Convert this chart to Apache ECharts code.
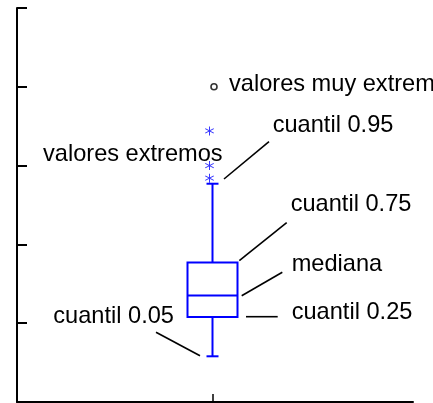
<!DOCTYPE html>
<html><head><meta charset="utf-8">
<script src="https://cdn.jsdelivr.net/npm/echarts@6/dist/echarts.min.js"></script>
<style>html,body{margin:0;padding:0;background:#fff}#c{width:433px;height:403px}</style>
</head><body><div id="c"></div>
<script>
const categories = ['grupo'];
// min (cuantil 0.05), q1 (0.25), mediana, q3 (0.75), max (cuantil 0.95)
const boxStats = [0.58, 1.08, 1.35, 1.77, 2.77];
const extremeValues = [2.84, 3.00, 3.44];
const veryExtremeValues = [4.0];
const yMin = 0, yMax = 5, yStep = 1;

const FONT = '23.6px "Liberation Sans", Arial, Helvetica, sans-serif';
const BLUE = '#0000ff';

const chart = echarts.init(document.getElementById('c'), null, {renderer: 'canvas'});

function txt(text, x, baseline) {
  return {type: 'text', x: x, y: baseline - 7.7, z: 10,
    style: {text: text, font: FONT, fill: '#000', verticalAlign: 'middle', align: 'left'}};
}
function ln(x1, y1, x2, y2) {
  return {type: 'line', z: 10, shape: {x1, y1, x2, y2}, style: {stroke: '#000', lineWidth: 1.6}};
}

const starPath = 'path://M-0.1,-1L0.1,-1L0.1,1L-0.1,1Z' +
  'M0.816,-0.587L0.916,-0.413L-0.816,0.587L-0.916,0.413Z' +
  'M-0.916,-0.413L-0.816,-0.587L0.916,0.413L0.816,0.587Z';

chart.setOption({
  animation: false,
  backgroundColor: '#fff',
  grid: [
    {left: 17, right: 20, top: 8, bottom: 1},
    {left: 17, right: 25, top: 8, bottom: 1}
  ],
  xAxis: [
    {gridIndex: 0, type: 'value', min: 0, max: 1,
      axisLine: {show: true, lineStyle: {color: '#000', width: 2}},
      axisTick: {show: false}, axisLabel: {show: false}, splitLine: {show: false}},
    {gridIndex: 1, type: 'category', data: categories,
      axisLine: {show: false},
      axisTick: {show: true, inside: true, length: 8, alignWithLabel: true, lineStyle: {color: '#000', width: 1.5}},
      axisLabel: {show: false}, splitLine: {show: false}}
  ],
  yAxis: [
    {gridIndex: 0, type: 'value', min: yMin, max: yMax, interval: yStep,
      axisLine: {show: true, lineStyle: {color: '#000', width: 2}},
      axisTick: {show: true, inside: true, length: 10, lineStyle: {color: '#000', width: 2}},
      axisLabel: {show: false}, splitLine: {show: false}},
    {gridIndex: 1, type: 'value', min: yMin, max: yMax, interval: yStep,
      axisLine: {show: false}, axisTick: {show: false}, axisLabel: {show: false}, splitLine: {show: false}}
  ],
  series: [
    {
      type: 'custom', xAxisIndex: 1, yAxisIndex: 1,
      data: [[0].concat(boxStats)],
      encode: {x: 0, y: [1, 2, 3, 4, 5]},
      renderItem: function (params, api) {
        const x = api.value(0);
        const p = k => api.coord([x, api.value(k)]);
        const pMin = p(1), pQ1 = p(2), pMed = p(3), pQ3 = p(4), pMax = p(5);
        const cx = pMin[0];
        const hw = 25, cw = 6;
        const st = {stroke: BLUE, lineWidth: 2, fill: null};
        return {type: 'group', children: [
          {type: 'rect', shape: {x: cx - hw, y: pQ3[1], width: 2 * hw, height: pQ1[1] - pQ3[1]}, style: {stroke: BLUE, lineWidth: 2, fill: 'none'}},
          {type: 'line', shape: {x1: cx - hw, y1: pMed[1], x2: cx + hw, y2: pMed[1]}, style: st},
          {type: 'line', shape: {x1: cx, y1: pQ3[1], x2: cx, y2: pMax[1]}, style: st},
          {type: 'line', shape: {x1: cx, y1: pQ1[1], x2: cx, y2: pMin[1]}, style: st},
          {type: 'line', shape: {x1: cx - cw, y1: pMax[1], x2: cx + cw, y2: pMax[1]}, style: st},
          {type: 'line', shape: {x1: cx - cw, y1: pMin[1], x2: cx + cw, y2: pMin[1]}, style: st}
        ]};
      }
    },
    {
      type: 'scatter', xAxisIndex: 1, yAxisIndex: 1,
      data: extremeValues.map(v => [0, v]),
      symbol: starPath, symbolSize: [9, 9], symbolOffset: [-3, 0],
      itemStyle: {color: BLUE}
    },
    {
      type: 'scatter', xAxisIndex: 1, yAxisIndex: 1,
      data: veryExtremeValues.map(v => [0, v]),
      symbol: 'circle', symbolSize: 6, symbolOffset: [1.5, 0],
      itemStyle: {color: '#fff', borderColor: '#000', borderWidth: 1.6}
    }
  ],
  graphic: [
    txt('valores muy extremos', 229, 92.3),
    txt('cuantil 0.95', 272.7, 133.3),
    txt('valores extremos', 43, 162),
    txt('cuantil 0.75', 290.7, 212.3),
    txt('mediana', 291.7, 271.7),
    txt('cuantil 0.25', 291.7, 320),
    txt('cuantil 0.05', 53.3, 324.3),
    ln(269, 141.7, 224, 179),
    ln(286.7, 222.7, 239.3, 260.7),
    ln(282.3, 272.3, 241.7, 295.7),
    ln(246, 316.7, 277.7, 316.7),
    ln(156, 332.3, 200, 355.7)
  ]
});
</script>
</body></html>
